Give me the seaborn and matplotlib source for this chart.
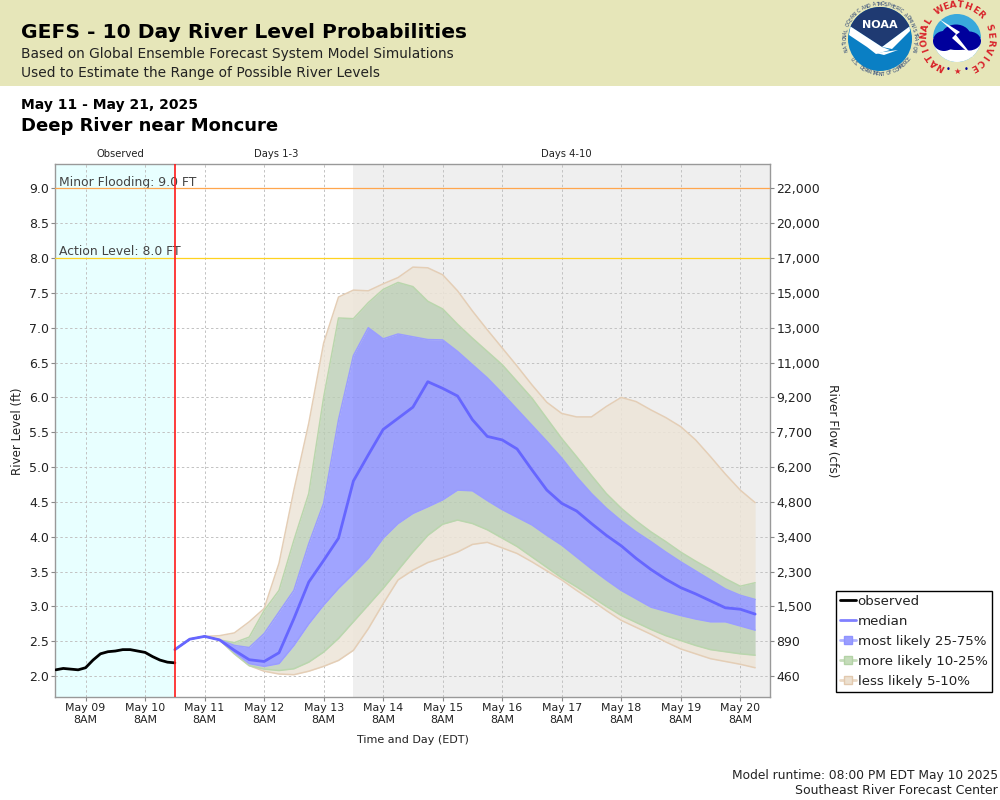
import numpy as np
import pandas as pd
import matplotlib
matplotlib.use('Agg')
import matplotlib.pyplot as plt
from matplotlib.lines import Line2D
from matplotlib.patches import Circle, Ellipse, Polygon, Rectangle, Wedge
import seaborn as sns

# observed stage, every 3 hours
obs_start = '2025-05-08 20:00'
observed = [2.09, 2.11, 2.10, 2.09, 2.12, 2.23, 2.32, 2.35, 2.36, 2.38, 2.38,
            2.36, 2.34, 2.28, 2.23, 2.20, 2.19]

# forecast percentiles, every 6 hours
fc_start = '2025-05-10 20:00'
median = [2.38, 2.53, 2.57, 2.52, 2.37, 2.235, 2.21, 2.335, 2.825, 3.35, 3.66, 3.98, 4.80, 5.175,
          5.54, 5.70, 5.86, 6.225, 6.13, 6.02, 5.68, 5.44, 5.39, 5.26, 4.96, 4.67, 4.48, 4.37,
          4.19, 4.02, 3.87, 3.69, 3.53, 3.39, 3.27, 3.18, 3.08, 2.98, 2.96, 2.89]
p75 = [2.38, 2.53, 2.57, 2.52, 2.44, 2.41, 2.61, 2.92, 3.23, 3.90, 4.48, 5.68, 6.60, 7.00,
       6.84, 6.91, 6.87, 6.83, 6.825, 6.66, 6.47, 6.28, 6.06, 5.83, 5.60, 5.37, 5.13, 4.86,
       4.62, 4.41, 4.23, 4.07, 3.93, 3.78, 3.64, 3.51, 3.38, 3.25, 3.16, 3.10]
p25 = [2.38, 2.53, 2.57, 2.52, 2.345, 2.18, 2.14, 2.18, 2.44, 2.75, 3.02, 3.26, 3.47, 3.69,
       3.98, 4.19, 4.335, 4.43, 4.53, 4.67, 4.66, 4.52, 4.39, 4.28, 4.17, 4.02, 3.88, 3.71,
       3.54, 3.38, 3.23, 3.11, 2.99, 2.93, 2.87, 2.82, 2.78, 2.78, 2.72, 2.66]
p90 = [2.38, 2.53, 2.57, 2.52, 2.48, 2.56, 2.94, 3.23, 3.95, 4.62, 6.00, 7.14, 7.13, 7.36,
       7.55, 7.65, 7.59, 7.38, 7.27, 7.05, 6.85, 6.66, 6.47, 6.23, 5.99, 5.70, 5.41, 5.15,
       4.88, 4.62, 4.41, 4.23, 4.07, 3.93, 3.78, 3.65, 3.53, 3.40, 3.29, 3.34]
p10 = [2.38, 2.53, 2.57, 2.52, 2.32, 2.15, 2.10, 2.08, 2.105, 2.20, 2.345, 2.54, 2.78, 3.02,
       3.26, 3.52, 3.78, 4.02, 4.18, 4.24, 4.19, 4.10, 3.98, 3.86, 3.71, 3.56, 3.41, 3.28,
       3.14, 3.00, 2.87, 2.77, 2.67, 2.58, 2.51, 2.44, 2.38, 2.35, 2.32, 2.30]
p95 = [2.38, 2.53, 2.57, 2.58, 2.62, 2.78, 2.97, 3.62, 4.67, 5.63, 6.78, 7.44, 7.54, 7.53,
       7.63, 7.72, 7.87, 7.86, 7.76, 7.53, 7.24, 6.97, 6.71, 6.45, 6.18, 5.93, 5.77, 5.72,
       5.72, 5.87, 6.00, 5.94, 5.82, 5.71, 5.58, 5.39, 5.15, 4.90, 4.67, 4.49]
p05 = [2.38, 2.53, 2.57, 2.52, 2.32, 2.15, 2.07, 2.03, 2.02, 2.07, 2.14, 2.225, 2.37, 2.68,
       3.04, 3.38, 3.52, 3.63, 3.70, 3.78, 3.89, 3.92, 3.84, 3.76, 3.64, 3.51, 3.38, 3.23,
       3.09, 2.94, 2.80, 2.70, 2.60, 2.49, 2.39, 2.32, 2.25, 2.21, 2.17, 2.12]

level_ticks = [2.0, 2.5, 3.0, 3.5, 4.0, 4.5, 5.0, 5.5, 6.0, 6.5, 7.0, 7.5, 8.0, 8.5, 9.0]
flow_labels = ['460', '890', '1,500', '2,300', '3,400', '4,800', '6,200', '7,700', '9,200',
               '11,000', '13,000', '15,000', '17,000', '20,000', '22,000']

obs_df = pd.DataFrame({'time': pd.date_range(obs_start, periods=len(observed), freq='3h'), 'level': observed})
fc_df = pd.DataFrame({'time': pd.date_range(fc_start, periods=len(median), freq='6h'), 'median': median,
                      'p05': p05, 'p10': p10, 'p25': p25, 'p75': p75, 'p90': p90, 'p95': p95})

sns.set_theme(style='white')
plt.rcParams['font.family'] = ['DejaVu Sans']

BLUE = '#888dff'
GREEN = '#bbceb4'
TAN = '#ede5d8'
BLUE_EDGE = '#9a9dff'
GREEN_EDGE = '#bad6ad'
TAN_EDGE = '#e4ceb6'
TXT = '#222222'

fig = plt.figure(figsize=(10, 8), dpi=100, facecolor='white')

# full figure layer in pixels for the banner and logos
bg = fig.add_axes([0, 0, 1, 1], zorder=0)
bg.set_xlim(0, 1000)
bg.set_ylim(800, 0)
bg.axis('off')
bg.add_patch(Rectangle((0, 0), 1000, 85.5, color='#e6e6b9', lw=0))


def ring_text(s, cx, cy, r, a0, a1, size, color, weight='normal', bottom=False):
    # one rotated character at a time around a circle
    for ch, a in zip(s, np.linspace(a0, a1, len(s))):
        t = np.radians(a)
        rot = a - 90 if not bottom else a + 90
        bg.text(cx + r * np.cos(t), cy - r * np.sin(t), ch, fontsize=size, color=color, weight=weight,
                rotation=rot, ha='center', va='center')


# NOAA logo, y is flipped here so wedge angles run clockwise
cx, cy = 880, 39
bg.add_patch(Circle((cx, cy), 32, color='#0a7fc4', lw=0))
bg.add_patch(Wedge((cx, cy), 32, 203, 337, color='#1f3a72', lw=0))
bg.add_patch(Polygon([(cx - 29.5, cy - 12.5), (cx + 29.5, cy - 12.5), (cx + 2, cy + 8)], color='#1f3a72', lw=0))
bg.add_patch(Polygon([(cx - 29.5, cy - 12.5), (cx + 2, cy + 8), (cx + 10, cy + 11), (cx - 4, cy + 15), (cx - 13, cy + 8),
                      (cx - 31, cy - 4)], color='white', lw=0))
bg.add_patch(Polygon([(cx + 29.5, cy - 12.5), (cx + 2, cy + 8), (cx + 12, cy + 10), (cx + 30, cy - 8)], color='white', lw=0))
bg.add_patch(Polygon([(cx - 4, cy + 14), (cx + 18, cy + 11), (cx + 4, cy + 16)], color='white', lw=0))
bg.text(cx, cy - 14, 'NOAA', fontsize=8, color='white', weight='bold', ha='center', va='center')
ring_text('NATIONAL OCEANIC AND ATMOSPHERIC ADMINISTRATION', cx, cy, 35, 198, -18, 3.3, '#1f3a72')
ring_text('U.S. DEPARTMENT OF COMMERCE', cx, cy, 35, 215, 325, 3.3, '#1f3a72', bottom=True)

# NWS logo
cx, cy = 957, 38
bg.add_patch(Circle((cx, cy), 24, color='#39a9dc', lw=0))
bg.add_patch(Wedge((cx, cy), 24, 0, 180, color='white', lw=0))
for dx, dy, w, h in [(-13, 3, 22, 20), (-1, -1, 30, 25), (12, 3, 24, 19), (1, 6, 38, 12)]:
    bg.add_patch(Ellipse((cx + dx, cy + dy), w, h, color='#00009c', lw=0))
bg.add_patch(Polygon([(cx - 18, cy - 19), (cx + 3, cy - 6), (cx - 1, cy - 3), (cx + 17, cy + 20), (cx - 5, cy), (cx - 1, cy - 4)],
                     color='white', lw=0))
ring_text('NATIONAL WEATHER SERVICE', cx, cy, 33, 240, -60, 6.5, '#d8232a', 'bold')
bg.text(cx - 9, cy + 31, '•', fontsize=6, color='#00009c', ha='center', va='center')
bg.text(cx, cy + 33, '★', fontsize=6, color='#d8232a', ha='center', va='center')
bg.text(cx + 9, cy + 31, '•', fontsize=6, color='#00009c', ha='center', va='center')

# header text
bg.text(21, 33, 'GEFS - 10 Day River Level Probabilities', fontsize=14.6, weight='bold', color='black', va='center')
bg.text(21, 54, 'Based on Global Ensemble Forecast System Model Simulations', fontsize=9.95, color=TXT, va='center')
bg.text(21, 73, 'Used to Estimate the Range of Possible River Levels', fontsize=9.9, color=TXT, va='center')
bg.text(21, 105, 'May 11 - May 21, 2025', fontsize=10, weight='bold', color='black', va='center')
bg.text(21, 126, 'Deep River near Moncure', fontsize=13, weight='bold', color='black', va='center')
bg.text(120, 154, 'Observed', fontsize=7.2, color=TXT, ha='center', va='center')
bg.text(276.5, 154, 'Days 1-3', fontsize=7.2, color=TXT, ha='center', va='center')
bg.text(566.5, 154, 'Days 4-10', fontsize=7.2, color=TXT, ha='center', va='center')
bg.text(18, 431, 'River Level (ft)', fontsize=8.6, color=TXT, rotation=90, ha='center', va='center')
bg.text(832, 431, 'River Flow (cfs)', fontsize=8.7, color=TXT, rotation=-90, ha='center', va='center')
bg.text(413, 740, 'Time and Day (EDT)', fontsize=8, color=TXT, ha='center', va='center')
bg.text(998, 775, 'Model runtime: 08:00 PM EDT May 10 2025', fontsize=8.8, color=TXT, ha='right', va='center')
bg.text(998, 791, 'Southeast River Forecast Center', fontsize=9, color=TXT, ha='right', va='center')

# main plot
x_left = pd.Timestamp('2025-05-08 19:40')
x_right = pd.Timestamp('2025-05-20 20:00')
now = pd.Timestamp(fc_start)
ax = fig.add_axes([0.055, 1 - 697 / 800, 0.715, (697 - 164) / 800], zorder=1)
ax.set_facecolor('white')

ax.axvspan(x_left, now, color='#e8ffff', lw=0, zorder=0)
ax.axvspan(pd.Timestamp('2025-05-13 20:00'), x_right, color='#efefef', lw=0, zorder=0)

# percentile bands
t = fc_df['time']
ax.fill_between(t, fc_df['p90'], fc_df['p95'], color=TAN, alpha=0.85, lw=0, zorder=2)
ax.fill_between(t, fc_df['p05'], fc_df['p10'], color=TAN, alpha=0.85, lw=0, zorder=2)
ax.fill_between(t, fc_df['p75'], fc_df['p90'], color=GREEN, alpha=0.8, lw=0, zorder=2)
ax.fill_between(t, fc_df['p10'], fc_df['p25'], color=GREEN, alpha=0.8, lw=0, zorder=2)
ax.fill_between(t, fc_df['p25'], fc_df['p75'], color=BLUE, alpha=0.8, lw=0, zorder=2)
for col, edge in [('p95', TAN_EDGE), ('p05', TAN_EDGE), ('p90', GREEN_EDGE), ('p10', GREEN_EDGE),
                  ('p75', BLUE_EDGE), ('p25', BLUE_EDGE)]:
    sns.lineplot(data=fc_df, x='time', y=col, color=edge, lw=1.1, ax=ax, zorder=3, legend=False, errorbar=None)

sns.lineplot(data=fc_df, x='time', y='median', color='#6666ff', lw=2, ax=ax, zorder=5, legend=False, errorbar=None)
sns.lineplot(data=obs_df, x='time', y='level', color='black', lw=2, ax=ax, zorder=5, legend=False, errorbar=None)
ax.set_xlabel('')
ax.set_ylabel('')

ax.set_xlim(x_left, x_right)
ax.set_ylim(1.70, 9.35)
ax.grid(True, color='#c2c2c2', ls=(0, (2.5, 2.5)), lw=0.7, zorder=1)
ax.set_axisbelow(True)
ax.set_yticks(level_ticks)
ax.set_yticklabels([f'{v:.1f}' for v in level_ticks], fontsize=9, color=TXT)
day_ticks = pd.date_range('2025-05-09 08:00', '2025-05-20 08:00', freq='24h')
ax.set_xticks(day_ticks)
ax.set_xticklabels([d.strftime('%b %d') + '\n8AM' for d in day_ticks], fontsize=7.9, color=TXT, linespacing=1.25)
ax.tick_params(axis='y', length=3, width=0.8, color='#888888', pad=1.5, left=True)
ax.tick_params(axis='x', length=3, width=0.8, color='#888888', pad=1, bottom=True)
for sp in ax.spines.values():
    sp.set_color('#999999')
    sp.set_linewidth(1)

ax.axhline(9.0, color='#ffa64d', lw=0.9, zorder=4)
ax.axhline(8.0, color='#ffd21f', lw=0.9, zorder=4)
ax.text(0.005, 9.0 + 0.09, 'Minor Flooding: 9.0 FT', transform=ax.get_yaxis_transform(), fontsize=8.9, color='#444444', va='center')
ax.text(0.005, 8.0 + 0.09, 'Action Level: 8.0 FT', transform=ax.get_yaxis_transform(), fontsize=8.9, color='#444444', va='center')

# flow axis on the right
ax2 = ax.twinx()
ax2.set_ylim(ax.get_ylim())
ax2.set_yticks(level_ticks)
ax2.set_yticklabels(flow_labels, fontsize=9, color=TXT)
ax2.tick_params(axis='y', length=3, width=0.8, color='#888888', pad=1.5, right=True)
ax2.grid(False)
for sp in ax2.spines.values():
    sp.set_visible(False)
# forecast start line goes on the twin axis so nothing covers it
ax2.axvline(now, color='#ff1a1a', lw=1.2, zorder=6)

handles = [
    Line2D([], [], color='black', lw=2),
    Line2D([], [], color='#8080ff', lw=2),
    Line2D([], [], color='#b0b3ff', lw=2, marker='s', ms=6, mfc='#9a9dff', mec='#8f93ff'),
    Line2D([], [], color='#c6dcbc', lw=2, marker='s', ms=6, mfc='#c5dcba', mec='#b3d3a6'),
    Line2D([], [], color='#ead8c4', lw=2, marker='s', ms=6, mfc='#ece0d0', mec='#e2c9ae'),
]
labels = ['observed', 'median', 'most likely 25-75%', 'more likely 10-25%', 'less likely 5-10%']
leg = fig.legend(handles, labels, loc='lower left', bbox_to_anchor=(835.5 / 1000, 1 - 692 / 800), fontsize=9.65,
                 frameon=True, fancybox=False, framealpha=1, edgecolor='black', facecolor='white',
                 borderpad=0.3, labelspacing=0.52, handlelength=1.2, handletextpad=0.15, borderaxespad=0,
                 labelcolor=TXT)
leg.get_frame().set_linewidth(1)

fig.savefig('out.png', dpi=100)
